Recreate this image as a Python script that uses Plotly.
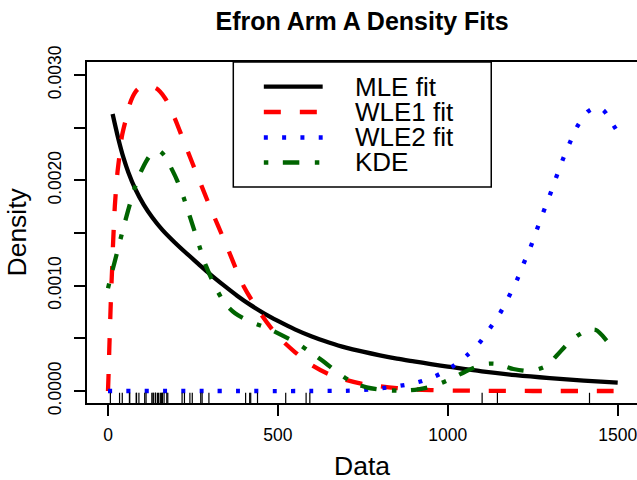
import plotly.graph_objects as go

# ---------------- data ----------------
# uncensored survival times shown as the rug
rug_x = [7, 34, 42, 63, 64, 83, 84, 91, 108, 112, 129, 133, 133, 139, 140, 140,
         146, 149, 154, 157, 160, 160, 165, 173, 176, 218, 225, 241, 248, 273,
         277, 297, 405, 417, 420, 440, 523, 583, 594, 1101, 1146, 1417]

# densities are given in units of 1e-3
mle_x = [13.6, 30, 45, 60, 80, 105, 130, 160, 195, 230, 265, 300, 340, 380, 420,
         460, 500, 550, 600, 650, 700, 750, 800, 850, 900, 950, 1000, 1100, 1200,
         1300, 1400, 1500]
mle_y = [2.63, 2.40, 2.22, 2.075, 1.92, 1.77, 1.65, 1.53, 1.415, 1.31, 1.21,
         1.11, 1.005, 0.905, 0.815, 0.735, 0.665, 0.585, 0.517, 0.461, 0.412,
         0.373, 0.338, 0.307, 0.281, 0.256, 0.232, 0.186, 0.15, 0.122, 0.099,
         0.079]

wle1_x = [0, 2, 4, 6, 8, 10, 12, 14, 17, 20, 24, 28, 34, 41, 52, 68, 88, 115,
          141, 168, 195, 222, 250, 275, 300, 325, 350, 400, 450, 500, 550, 600,
          650, 700, 750, 800, 850, 900, 950, 1000, 1100, 1200, 1300, 1400, 1500]
wle1_y = [0, 0.19, 0.42, 0.62, 0.82, 1.0, 1.15, 1.33, 1.55, 1.75, 1.93, 2.08,
          2.24, 2.42, 2.57, 2.76, 2.865, 2.89, 2.875, 2.78, 2.60, 2.38, 2.15,
          1.95, 1.75, 1.56, 1.37, 0.99, 0.73, 0.52, 0.37, 0.245, 0.16, 0.105,
          0.067, 0.045, 0.028, 0.016, 0.009, 0.005, 0.002, 0.0005, 0, 0, 0]

wle2_x = [0, 300, 600, 700, 753, 808, 861, 914, 964, 1011, 1054, 1093, 1124,
          1154, 1179, 1203, 1223, 1244, 1262, 1281, 1300, 1318, 1337, 1358,
          1380, 1411, 1435, 1457, 1487, 1500]
wle2_y = [0, 0, 0, 0.002, 0.01, 0.028, 0.05, 0.085, 0.142, 0.225, 0.332, 0.456,
          0.595, 0.74, 0.892, 1.05, 1.209, 1.37, 1.531, 1.696, 1.857, 2.02,
          2.186, 2.348, 2.506, 2.649, 2.69, 2.668, 2.525, 2.46]

kde_x = [0, 11, 25.6, 35, 45, 55, 65, 74.5, 91, 114, 130, 148, 165, 177.5, 202,
         218, 241, 264, 288, 318, 344, 374, 423, 470, 514, 557, 600, 639, 676,
         717, 761, 813, 864, 913, 960, 1006, 1051, 1095, 1120, 1146, 1193, 1241,
         1289, 1322, 1358, 1400, 1436, 1479, 1500]
kde_y = [0.975, 1.12, 1.30, 1.42, 1.545, 1.665, 1.78, 1.885, 2.04, 2.19, 2.26,
         2.285, 2.24, 2.17, 2.01, 1.88, 1.655, 1.425, 1.19, 0.975, 0.833, 0.738,
         0.652, 0.595, 0.525, 0.453, 0.358, 0.269, 0.174, 0.088, 0.035, 0.0095,
         0.003, 0.016, 0.05, 0.111, 0.183, 0.244, 0.26, 0.256, 0.209, 0.19,
         0.237, 0.342, 0.465, 0.56, 0.579, 0.44, 0.40]

x_ticks = [0, 500, 1000, 1500]
y_ticks = [0, 0.0005, 0.001, 0.0015, 0.002, 0.0025, 0.003]
y_ticktext = ["0.0000", "", "0.0010", "", "0.0020", "", "0.0030"]

series = [
    ("MLE fit", mle_x, mle_y, "black", "solid"),
    ("WLE1 fit", wle1_x, wle1_y, "#ff0000", "17px,19px"),
    ("WLE2 fit", wle2_x, wle2_y, "#0000ff", "4px,14.3px"),
    ("KDE", kde_x, kde_y, "#006400", "4.5px,14.5px,16.5px,15.5px"),
]

FONT = "Liberation Sans, Arial, Helvetica, sans-serif"
LW = 4.3

fig = go.Figure()
for name, xs, ys, col, dash in series:
    fig.add_trace(go.Scatter(
        x=xs, y=[v * 1e-3 for v in ys], mode="lines", name=name,
        line=dict(color=col, width=LW, dash=dash, shape="spline", smoothing=0.8),
        showlegend=False, hoverinfo="skip"))

# rug
for v in rug_x:
    fig.add_shape(type="line", xref="x", yref="paper", x0=v, x1=v, y0=0, y1=0.03,
                  line=dict(color="black", width=1.2))

# manual legend (R style)
leg_left, leg_right, leg_bottom, leg_top = 0.266, 0.735, 0.6334, 1.0
fig.add_shape(type="rect", xref="paper", yref="paper", x0=leg_left, x1=leg_right,
              y0=leg_bottom, y1=leg_top, line=dict(color="black", width=1.5),
              fillcolor="white", layer="above")
row_y = [0.9276, 0.8534, 0.7786, 0.7053]
for (name, xs, ys, col, dash), ry in zip(series, row_y):
    fig.add_shape(type="line", xref="paper", yref="paper", x0=0.3215, x1=0.4285,
                  y0=ry, y1=ry, line=dict(color=col, width=LW, dash=dash),
                  layer="above")
    fig.add_annotation(xref="paper", yref="paper", x=0.4842, y=ry, text=name,
                       showarrow=False, xanchor="left", yanchor="middle",
                       font=dict(family=FONT, size=26, color="black"))

# axis titles
fig.add_annotation(xref="paper", yref="paper", x=0.5, y=0, yshift=-63, text="Data",
                   showarrow=False, xanchor="center", yanchor="middle",
                   font=dict(family=FONT, size=26.5, color="black"))
fig.add_annotation(xref="paper", yref="paper", x=0, xshift=-71, y=0.5, text="Density",
                   showarrow=False, xanchor="center", yanchor="middle", textangle=-90,
                   font=dict(family=FONT, size=26.5, color="black"))

fig.update_layout(
    width=637, height=480,
    margin=dict(l=87, r=0, t=62, b=77),
    paper_bgcolor="white", plot_bgcolor="white",
    font=dict(family=FONT, color="black"),
    title=dict(text="<b>Efron Arm A Density Fits</b>", x=0.5, xref="paper",
               xanchor="center", y=1 - 21 / 480, yanchor="middle",
               font=dict(family=FONT, size=25, color="black")),
    xaxis=dict(range=[-61.8, 1556.8], tickvals=x_ticks, ticks="outside", ticklen=11,
               tickwidth=1.5, tickcolor="black", showline=True, linecolor="black",
               linewidth=1.5, mirror=True, showgrid=False, zeroline=False,
               ticklabeloverflow="allow", ticklabelstandoff=4,
               tickfont=dict(family=FONT, size=17.5, color="black")),
    yaxis=dict(range=[-0.0001139, 0.0031234], tickvals=y_ticks, ticktext=y_ticktext,
               tickangle=-90, ticks="outside", ticklen=11, tickwidth=1.5,
               tickcolor="black", showline=True, linecolor="black", linewidth=1.5,
               mirror=False, showgrid=False, zeroline=False,
               ticklabeloverflow="allow", ticklabelstandoff=6,
               tickfont=dict(family=FONT, size=17.5, color="black")),
)

fig.write_html("out.html", config={"displayModeBar": False},
               post_script="document.body.style.margin='0';document.body.style.overflow='hidden';")
